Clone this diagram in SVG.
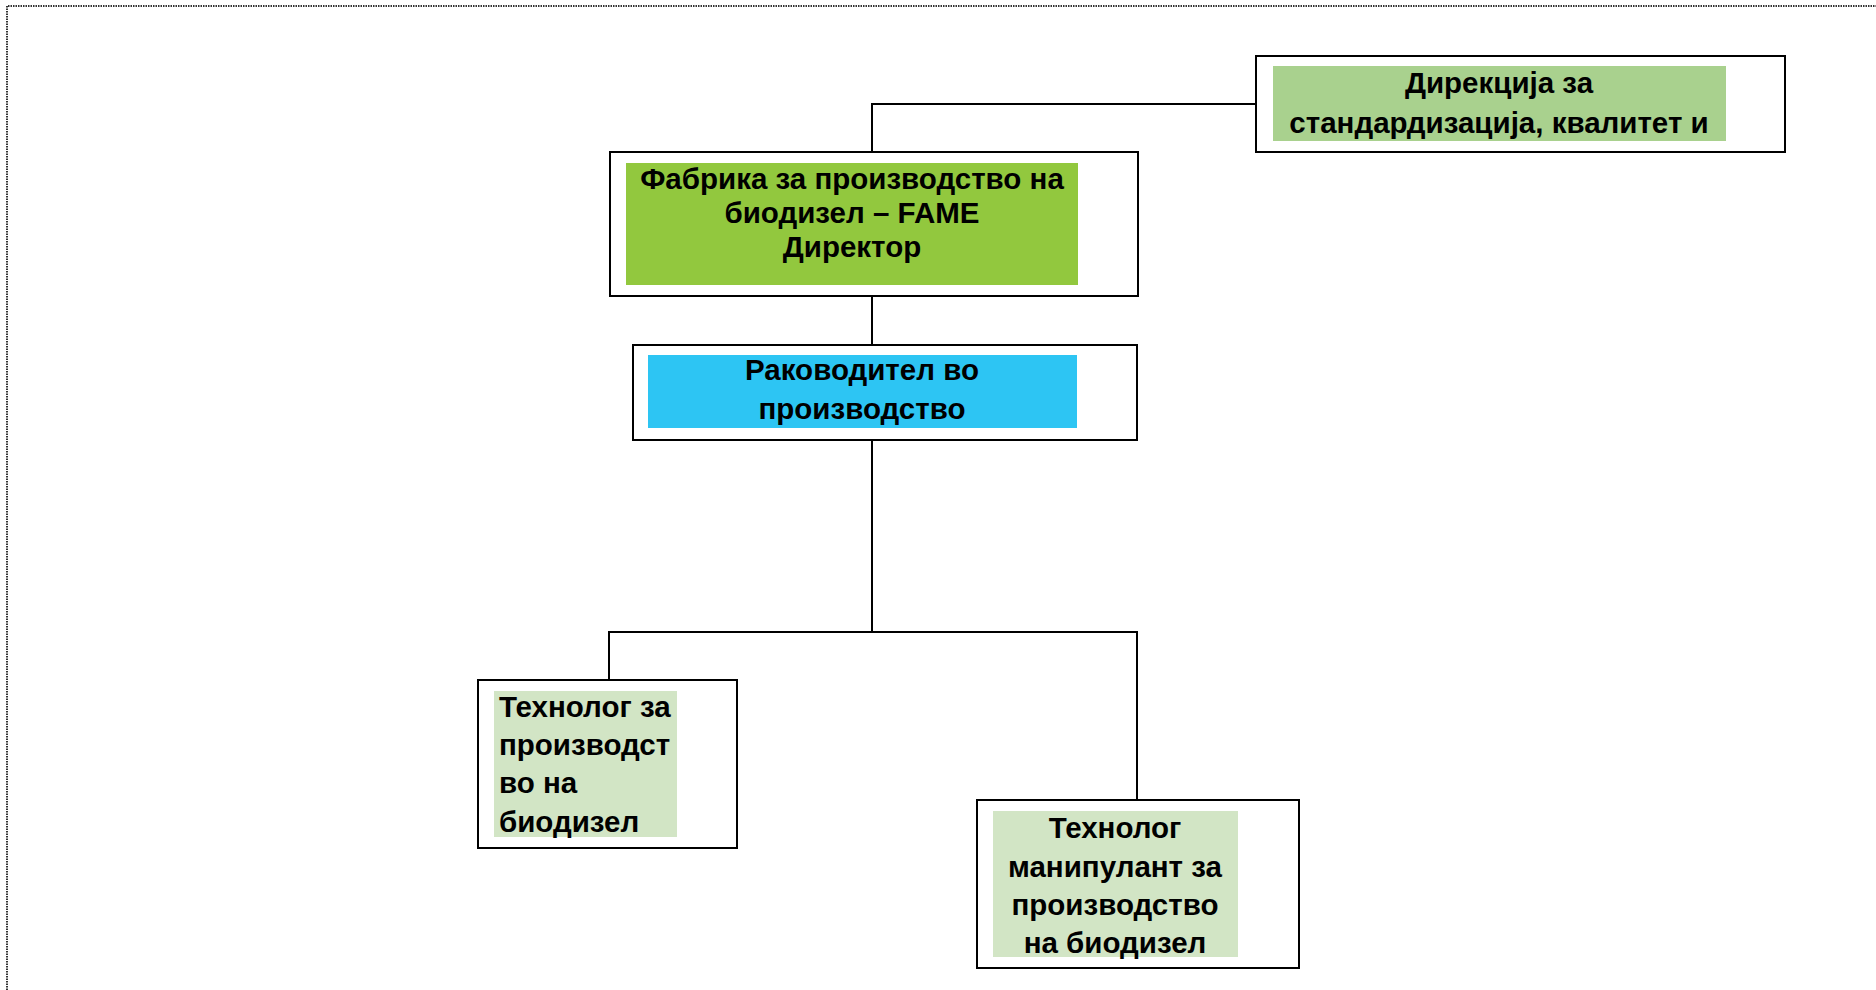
<svg xmlns="http://www.w3.org/2000/svg" width="1876" height="990" viewBox="0 0 1876 990">
<style>
.box{fill:#fff;stroke:#000;stroke-width:2}
.t{font-family:"Liberation Sans",Arial,sans-serif;font-weight:bold;font-size:29.5px;fill:#000}
.c{text-anchor:middle}
.con{fill:none;stroke:#000;stroke-width:2}
</style>
<rect x="0" y="0" width="1876" height="990" fill="#fff"/>
<path d="M7,990 V6 H1876" fill="none" stroke="#333" stroke-width="2" stroke-dasharray="1.5,1"/>
<g id="connectors">
<path class="con" d="M872,152 V104 H1256"/>
<path class="con" d="M872,296 V345"/>
<path class="con" d="M872,440 V632 M609,680 V632 H1137 V800"/>
</g>
<g id="direkcija">
<rect class="box" x="1256" y="56" width="529" height="96"/>
<rect x="1273" y="66" width="453" height="75" fill="#A9D18E"/>
<text class="t c" x="1499" y="93">Дирекција за</text>
<text class="t c" x="1499" y="133">стандардизација, квалитет и</text>
</g>
<g id="fabrika">
<rect class="box" x="610" y="152" width="528" height="144"/>
<rect x="626" y="163" width="452" height="122" fill="#92C83E"/>
<text class="t c" x="852" y="189">Фабрика за производство на</text>
<text class="t c" x="852" y="223">биодизел – FAME</text>
<text class="t c" x="852" y="257">Директор</text>
</g>
<g id="rakovoditel">
<rect class="box" x="633" y="345" width="504" height="95"/>
<rect x="648" y="355" width="429" height="73" fill="#2DC5F3"/>
<text class="t c" x="862" y="380">Раководител во</text>
<text class="t c" x="862" y="419">производство</text>
</g>
<g id="tehnolog1">
<rect class="box" x="478" y="680" width="259" height="168"/>
<rect x="494" y="691" width="183" height="146" fill="#D2E5C5"/>
<text class="t" x="499" y="717">Технолог за</text>
<text class="t" x="499" y="755">производст</text>
<text class="t" x="499" y="793">во на</text>
<text class="t" x="499" y="832">биодизел</text>
</g>
<g id="tehnolog2">
<rect class="box" x="977" y="800" width="322" height="168"/>
<rect x="993" y="811" width="245" height="146" fill="#D2E5C5"/>
<text class="t c" x="1115" y="838">Технолог</text>
<text class="t c" x="1115" y="877">манипулант за</text>
<text class="t c" x="1115" y="915">производство</text>
<text class="t c" x="1115" y="953">на биодизел</text>
</g>
</svg>
